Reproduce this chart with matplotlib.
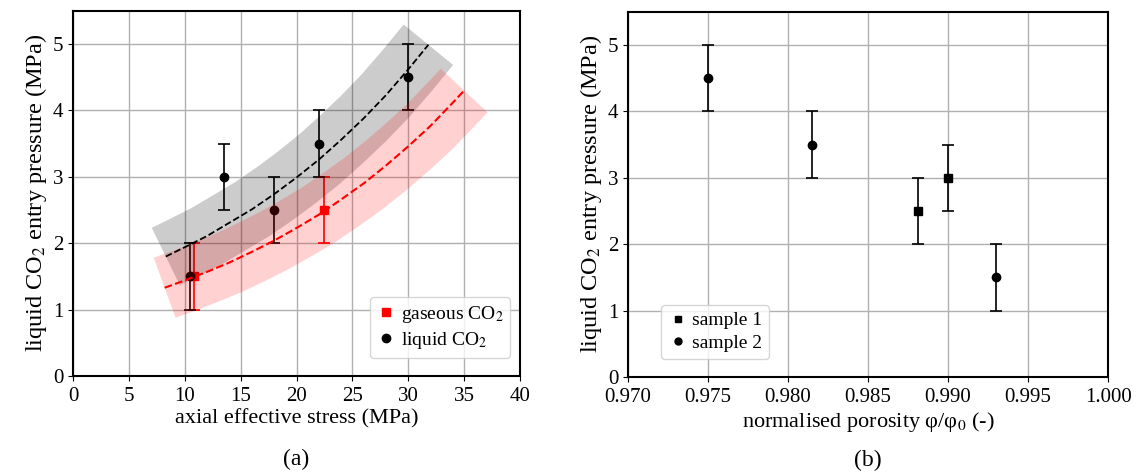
import numpy as np
import matplotlib
matplotlib.use("Agg")
import matplotlib.pyplot as plt

# panel (a): entry pressure vs axial effective stress
liq_stress = [10.5, 13.5, 18.0, 22.0, 30.0]
liq_press = [1.5, 3.0, 2.5, 3.5, 4.5]
liq_err = [0.5, 0.5, 0.5, 0.5, 0.5]
gas_stress = [10.8, 22.5]
gas_press = [1.5, 2.5]
gas_err = [0.5, 0.5]

# fitted trend curves
liq_fit_x = [8.3, 10, 12, 14, 16, 18, 20, 22, 24, 26, 28, 30, 31.8]
liq_fit_y = [1.80, 1.94, 2.11, 2.31, 2.51, 2.74, 2.99, 3.26, 3.56, 3.88, 4.23, 4.62, 4.99]
gas_fit_x = [8.2, 10, 12, 14, 16, 18, 20, 22, 24, 26, 28, 30, 32, 34, 35]
gas_fit_y = [1.33, 1.44, 1.57, 1.71, 1.87, 2.04, 2.23, 2.43, 2.66, 2.90, 3.17, 3.46, 3.77, 4.12, 4.30]

# panel (b): entry pressure vs normalised porosity
s1_por = [0.9881, 0.9900]
s1_press = [2.5, 3.0]
s2_por = [0.9750, 0.9815, 0.9930]
s2_press = [4.5, 3.5, 1.5]
b_err = 0.5

plt.rcParams.update({
    'font.family': 'Liberation Serif',
    'mathtext.fontset': 'stix',
    'font.size': 15,
    'axes.linewidth': 1.5,
    'xtick.major.pad': 4.5,
})

fig = plt.figure(figsize=(11.48, 4.73), dpi=100)
ax1 = fig.add_axes([0.0636, 0.205, 0.3894, 0.772])
ax2 = fig.add_axes([0.5470, 0.203, 0.4182, 0.772])

ylabel = "liquid CO$_2$ entry pressure (MPa)"
ebar = dict(capsize=4, elinewidth=1.2, capthick=1.2, markersize=6)

# --- (a)
ax1.errorbar(gas_stress, gas_press, yerr=gas_err, fmt='s', color='red',
             label="gaseous CO$_2$", zorder=3, **ebar)
ax1.errorbar(liq_stress, liq_press, yerr=liq_err, fmt='o', color='black',
             label="liquid CO$_2$", zorder=3, **ebar)
# uncertainty bands drawn as thick translucent lines
ax1.plot(liq_fit_x, liq_fit_y, color='black', lw=46, alpha=0.2,
         solid_capstyle='butt', solid_joinstyle='round', zorder=4)
ax1.plot(gas_fit_x, gas_fit_y, color='red', lw=46, alpha=0.18,
         solid_capstyle='butt', solid_joinstyle='round', zorder=4)
ax1.plot(liq_fit_x, liq_fit_y, color='black', lw=1.3, ls='--', zorder=5)
ax1.plot(gas_fit_x, gas_fit_y, color='red', lw=1.5, ls='--', zorder=5)

ax1.set_xlim(0, 40)
ax1.set_ylim(0, 5.5)
ax1.set_xticks(np.arange(0, 41, 5))
ax1.set_yticks(np.arange(0, 6, 1))
ax1.grid(True, color='#b0b0b0', lw=1.0)
ax1.set_axisbelow(True)
ax1.set_xlabel("axial effective stress (MPa)", fontsize=16, labelpad=2)
ax1.set_ylabel(ylabel, fontsize=17.5, labelpad=3)
leg_h = [plt.Line2D([], [], marker='s', color='red', ls='none', markersize=6),
         plt.Line2D([], [], marker='o', color='black', ls='none', markersize=6)]
ax1.legend(leg_h, ["gaseous CO$_2$", "liquid CO$_2$"], loc='lower right',
           handletextpad=0.25, handlelength=1.0, borderpad=0.35,
           labelspacing=0.25, fontsize=14, borderaxespad=0,
           bbox_to_anchor=(0.978, 0.05))
ax1.text(0.5, -0.2, "(a)", transform=ax1.transAxes, ha='center', va='top',
         fontsize=17)

# --- (b)
ax2.errorbar(s1_por, s1_press, yerr=b_err, fmt='s', color='black',
             label="sample 1", **ebar)
ax2.errorbar(s2_por, s2_press, yerr=b_err, fmt='o', color='black',
             label="sample 2", **ebar)
ax2.set_xlim(0.970, 1.000)
ax2.set_ylim(0, 5.5)
ax2.set_xticks(np.arange(0.970, 1.0001, 0.005))
ax2.xaxis.set_major_formatter(matplotlib.ticker.FormatStrFormatter('%.3f'))
ax2.set_yticks(np.arange(0, 6, 1))
ax2.grid(True, color='#b0b0b0', lw=1.0)
ax2.set_axisbelow(True)
ax2.set_xlabel("normalised porosity φ/φ$_0$ (-)", fontsize=16, labelpad=2)
ax2.set_ylabel(ylabel, fontsize=17.5, labelpad=3)
leg_h2 = [plt.Line2D([], [], marker='s', color='black', ls='none', markersize=5),
          plt.Line2D([], [], marker='o', color='black', ls='none', markersize=5)]
ax2.legend(leg_h2, ["sample 1", "sample 2"], loc='lower left',
           handletextpad=0.25, handlelength=1.0, borderpad=0.35,
           labelspacing=0.25, fontsize=14, borderaxespad=0,
           bbox_to_anchor=(0.069, 0.05))
ax2.text(0.5, -0.2, "(b)", transform=ax2.transAxes, ha='center', va='top',
         fontsize=17)

fig.savefig("out.png", dpi=100)
